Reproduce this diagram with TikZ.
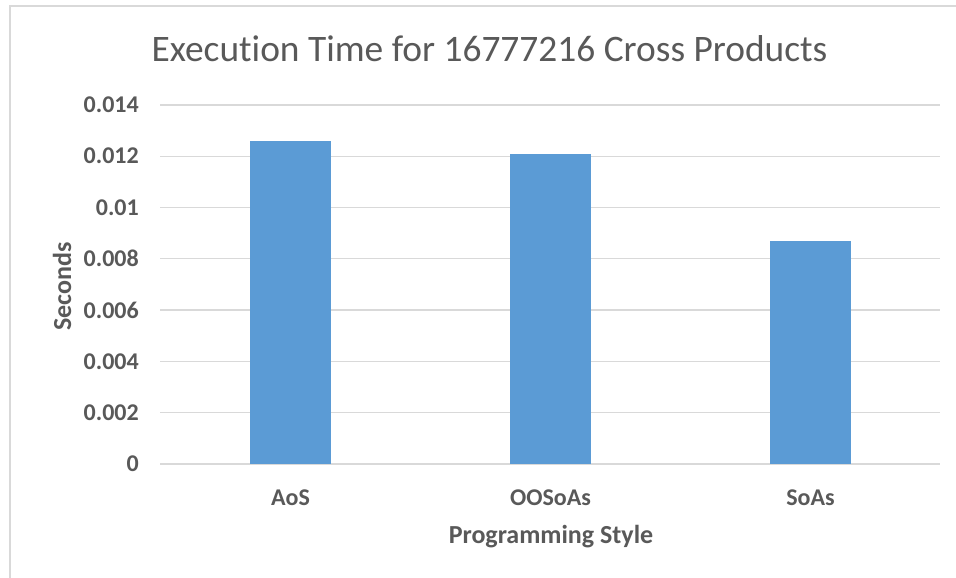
\documentclass[tikz,border=0pt]{standalone}
\usepackage{fontspec}
\setmainfont{Carlito}[Ligatures={NoCommon}]
\definecolor{gridgray}{RGB}{217,217,217}
\definecolor{textgray}{RGB}{89,89,89}
\definecolor{barblue}{RGB}{91,155,213}
\begin{document}
\begin{tikzpicture}[x=1pt,y=-1pt,
  ticklabel/.style={anchor=east,font=\fontsize{24}{24}\selectfont\bfseries,text=textgray,inner sep=0pt},
  catlabel/.style={anchor=base,font=\fontsize{24}{24}\selectfont\bfseries,text=textgray,inner sep=0pt},
  axistitle/.style={font=\fontsize{26}{26}\selectfont\bfseries,text=textgray,inner sep=0pt},
  gridline/.style={draw=gridgray,line width=1.3pt},
  bar/.style={fill=barblue,draw=none}]
\useasboundingbox (0,0) rectangle (956,578);
\clip (0,0) rectangle (956,578);
\fill[white] (0,0) rectangle (956,578);
% chart frame
\draw[gridgray,line width=1.5pt] (10,6) rectangle (980,600);
% title
\node[anchor=base,font=\fontsize{37.4}{37.4}\selectfont,text=textgray,inner sep=0pt] (title) at (489.5,62) {Execution Time for 16777216 Cross Products};
% horizontal grid and tick labels
\foreach \v/\lab [count=\i] in {0/0,1/0.002,2/0.004,3/0.006,4/0.008,5/0.01,6/0.012,7/0.014}{
  \draw[gridline] (160,464-51.3*\v) -- (940,464-51.3*\v);
  \node[ticklabel] (t\i) at (139,464-51.3*\v) {\lab};
}
% bars: value / 0.002 * 51.3 px
\fill[bar] (250,464) rectangle (331,141);
\fill[bar] (510,464) rectangle (591,154);
\fill[bar] (770,464) rectangle (851,241);
% category labels
\node[catlabel] (c1) at (290.5,505) {AoS};
\node[catlabel] (c2) at (550.5,505) {OOSoAs};
\node[catlabel] (c3) at (810.5,505) {SoAs};
% axis titles
\node[axistitle,anchor=base] (xt) at (551,543) {Programming Style};
\node[axistitle,rotate=90] (yt) at (62,286.5) {Seconds};
\end{tikzpicture}
\end{document}
